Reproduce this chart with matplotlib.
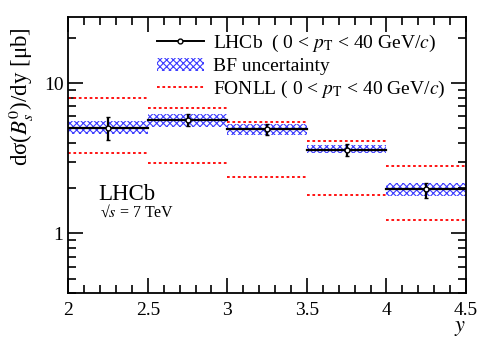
import matplotlib
matplotlib.use("Agg")
import matplotlib.pyplot as plt
import numpy as np
from matplotlib.patches import Patch
from matplotlib.lines import Line2D

plt.rcParams['font.family'] = ['Liberation Serif', 'DejaVu Serif']
plt.rcParams['mathtext.fontset'] = 'stix'
plt.rcParams['hatch.linewidth'] = 0.8

# rapidity bins
y_lo = [2.0, 2.5, 3.0, 3.5, 4.0]
y_hi = [2.5, 3.0, 3.5, 4.0, 4.5]

# LHCb measurement [ub]
sigma = [5.05, 5.67, 4.94, 3.61, 1.96]
err_up = [0.93, 0.53, 0.39, 0.30, 0.22]
err_dn = [0.84, 0.50, 0.44, 0.34, 0.24]

# branching-fraction uncertainty band
bf_up = [5.62, 6.19, 5.35, 3.85, 2.15]
bf_dn = [4.60, 5.09, 4.48, 3.42, 1.76]

# FONLL band
fonll_up = [7.93, 6.80, 5.53, 4.10, 2.79]
fonll_dn = [3.41, 2.92, 2.38, 1.80, 1.23]

fig = plt.figure(figsize=(4.91, 3.52), dpi=100)
ax = fig.add_axes([0.139, 0.167, 0.810, 0.786])

for i in range(len(y_lo)):
    x0, x1 = y_lo[i], y_hi[i]
    xc = 0.5 * (x0 + x1)
    ax.fill_between([x0, x1], bf_dn[i], bf_up[i], facecolor='none',
                    edgecolor='#3b3bff', hatch='xxxxx', linewidth=0)
    ax.plot([x0, x1], [fonll_up[i]] * 2, color='red', ls=(0, (1.5, 1.5)), lw=1.3)
    ax.plot([x0, x1], [fonll_dn[i]] * 2, color='red', ls=(0, (1.5, 1.5)), lw=1.3)
    ax.plot([x0, x1], [sigma[i]] * 2, color='black', lw=1.6)
    ax.errorbar([xc], [sigma[i]], yerr=[[err_dn[i]], [err_up[i]]], fmt='o',
                color='black', mfc='white', ms=3.5, mew=1.0, elinewidth=1.6,
                capsize=1.5, capthick=1.2)

ax.set_yscale('log')
ax.set_xlim(2, 4.5)
ax.set_ylim(0.4, 27.7)
ax.set_xticks([2, 2.5, 3, 3.5, 4, 4.5])
ax.set_xticklabels(['2', '2.5', '3', '3.5', '4', '4.5'])
ax.set_xticks(np.arange(2, 4.5001, 0.1), minor=True)
ax.set_yticks([1, 10])
ax.set_yticklabels(['1', '10'])
ax.set_yticks([0.4, 0.5, 0.6, 0.7, 0.8, 0.9, 2, 3, 4, 5, 6, 7, 8, 9, 20], minor=True)
ax.yaxis.set_minor_formatter(matplotlib.ticker.NullFormatter())
ax.tick_params(which='both', direction='in', top=True, right=True, labelsize=14, width=1.2)
ax.tick_params(which='major', length=11)
ax.tick_params(which='minor', length=6)
ax.tick_params(axis='x', pad=6)
for s in ax.spines.values():
    s.set_linewidth(1.3)

fig.text(0.043, 0.724, 'dσ($B^0_s$)/dy [μb]', rotation=90,
         ha='center', va='center', fontsize=16.5)
ax.set_xlabel(r'$y$', fontsize=16, loc='right', labelpad=0)

ax.text(0.075, 0.337, 'LHCb', transform=ax.transAxes, fontsize=16.5)
ax.text(0.08, 0.277, '√$s$ = 7 TeV', transform=ax.transAxes, fontsize=11.5)

handles = [
    Line2D([], [], color='black', lw=1.4, marker='o', ms=3.5, mfc='white', mew=1.0),
    Patch(facecolor='none', edgecolor='#3b3bff', hatch='xxxxx', linewidth=0),
    Line2D([], [], color='red', ls=(0, (1.5, 1.5)), lw=1.3),
]
labels = [r'LHCb  ( 0 < $p_{\rm T}$ < 40 GeV/$c$)', 'BF uncertainty',
          r'FONLL ( 0 < $p_{\rm T}$ < 40 GeV/$c$)']
ax.legend(handles, labels, loc='upper left', bbox_to_anchor=(0.223, 0.94),
          frameon=False, fontsize=14, handlelength=2.4, handletextpad=0.5,
          labelspacing=0.18, borderpad=0, borderaxespad=0)

fig.savefig('out.png', dpi=100)
